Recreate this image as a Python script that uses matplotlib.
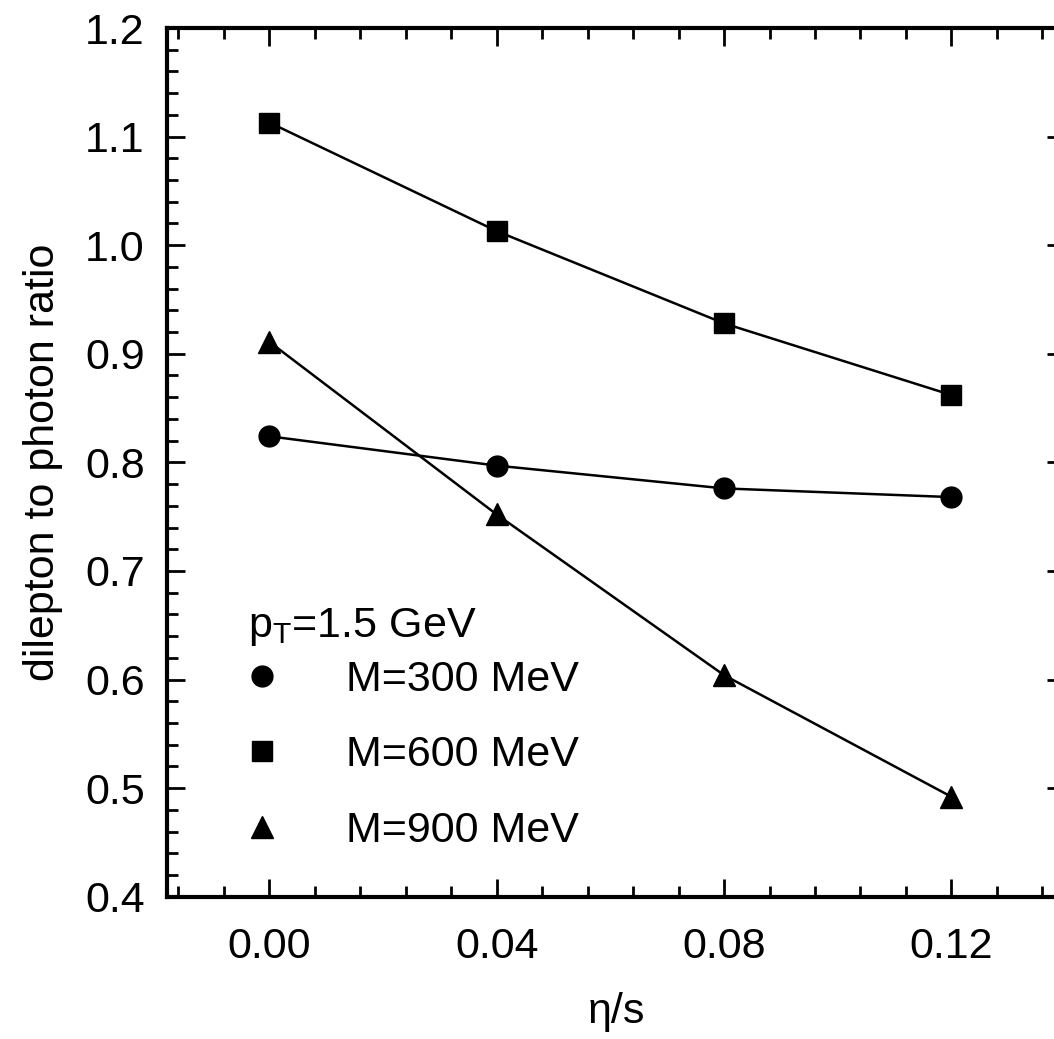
import matplotlib
matplotlib.use("Agg")
import matplotlib.pyplot as plt
from matplotlib.lines import Line2D
from matplotlib.ticker import MultipleLocator

plt.rcParams['font.family'] = ['Liberation Sans', 'DejaVu Sans']
plt.rcParams['mathtext.fontset'] = 'custom'
plt.rcParams['mathtext.rm'] = 'Liberation Sans'
plt.rcParams['mathtext.it'] = 'Liberation Sans:italic'

# eta/s values and dilepton-to-photon ratios
eta_s = [0.00, 0.04, 0.08, 0.12]
ratio_300 = [0.824, 0.797, 0.776, 0.768]
ratio_600 = [1.113, 1.013, 0.928, 0.862]
ratio_900 = [0.911, 0.752, 0.604, 0.492]

series = [
    (ratio_300, 'o', 15, 'M=300 MeV'),
    (ratio_600, 's', 15, 'M=600 MeV'),
    (ratio_900, '^', 16, 'M=900 MeV'),
]

x_ticks = [0.00, 0.04, 0.08, 0.12]
x_ticklabels = ['0.00', '0.04', '0.08', '0.12']

fig = plt.figure(figsize=(10.54, 10.39), dpi=100)
ax = fig.add_axes([0.1585, 0.137, 0.852, 0.836])

handles = []
for y, marker, ms, label in series:
    ax.plot(eta_s, y, color='black', lw=1.8, marker=marker, ms=ms, clip_on=False)
    handles.append(Line2D([], [], color='black', ls='none', marker=marker, ms=ms, label=label))

ax.set_xlim(-0.018, 0.14)
ax.set_ylim(0.4, 1.2)
ax.set_xticks(x_ticks)
ax.set_xticklabels(x_ticklabels)
ax.xaxis.set_minor_locator(MultipleLocator(0.008))
ax.yaxis.set_major_locator(MultipleLocator(0.1))
ax.yaxis.set_minor_locator(MultipleLocator(0.02))

ax.tick_params(which='both', direction='in', top=True, right=True, width=2, labelsize=31)
ax.tick_params(which='major', length=13)
ax.tick_params(which='minor', length=8)
ax.tick_params(axis='y', pad=16)
ax.tick_params(axis='x', pad=22)
for s in ax.spines.values():
    s.set_linewidth(3)

ax.set_xlabel('η/s', fontsize=31, labelpad=18)
ax.set_ylabel('dilepton to photon ratio', fontsize=31, labelpad=16)

# legend heading
ax.text(0.0906, 0.299, r'p$_\mathrm{T}$=1.5 GeV', transform=ax.transAxes,
        fontsize=31, va='baseline', ha='left')

leg = ax.legend(handles=handles, loc='upper left',
                bbox_to_anchor=(0.082, 0.2725), frameon=False, fontsize=31,
                handlelength=1.0, handletextpad=1.45, labelspacing=0.82,
                borderpad=0, borderaxespad=0)

fig.savefig('out.png', dpi=100)
